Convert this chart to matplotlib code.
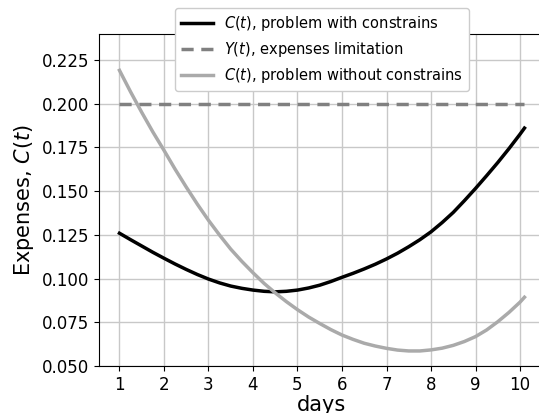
import matplotlib
matplotlib.use("Agg")
import matplotlib.pyplot as plt

days = [1.0, 1.25, 1.5, 1.75, 2.0, 2.25, 2.5, 2.75, 3.0, 3.25, 3.5, 3.75,
        4.0, 4.25, 4.5, 4.75, 5.0, 5.25, 5.5, 5.75, 6.0, 6.25, 6.5, 6.75,
        7.0, 7.25, 7.5, 7.75, 8.0, 8.25, 8.5, 8.75, 9.0, 9.25, 9.5, 9.75,
        10.0, 10.1]
cost_constrained = [0.1259, 0.1222, 0.1186, 0.1150, 0.1116, 0.1083, 0.1052, 0.1023,
                    0.0997, 0.0975, 0.0957, 0.0944, 0.0934, 0.0927, 0.0924, 0.0927,
                    0.0934, 0.0946, 0.0962, 0.0983, 0.1007, 0.1030, 0.1055, 0.1082,
                    0.1112, 0.1145, 0.1182, 0.1222, 0.1267, 0.1320, 0.1378, 0.1445,
                    0.1515, 0.1588, 0.1663, 0.1742, 0.1825, 0.1860]
limit = [0.1995] * len(days)
cost_free = [0.2190, 0.2067, 0.1950, 0.1838, 0.1733, 0.1625, 0.1523, 0.1425,
             0.1333, 0.1248, 0.1168, 0.1098, 0.1033, 0.0972, 0.0918, 0.0868,
             0.0822, 0.0780, 0.0743, 0.0708, 0.0677, 0.0652, 0.0630, 0.0614,
             0.0601, 0.0591, 0.0586, 0.0586, 0.0592, 0.0602, 0.0618, 0.0640,
             0.0668, 0.0706, 0.0753, 0.0806, 0.0865, 0.0893]
xticks = list(range(1, 11))

fig = plt.figure(figsize=(5.39, 4.13), dpi=100)
ax = fig.add_axes([0.1841, 0.1138, 0.8265, 0.8039])

ax.plot(days, cost_constrained, color="black", lw=2.5,
        label=r"$C(t)$, problem with constrains")
ax.plot(days, limit, color="#808080", lw=2.5, ls=(0, (3.5, 2.2)),
        label=r"$Y(t)$, expenses limitation")
ax.plot(days, cost_free, color="#aaaaaa", lw=2.5,
        label=r"$C(t)$, problem without constrains")

ax.set_xlim(0.545, 10.555)
ax.set_ylim(0.05, 0.2398)
ax.set_xticks(xticks)
ax.set_yticks([0.05, 0.075, 0.1, 0.125, 0.15, 0.175, 0.2, 0.225])
ax.set_yticklabels(["0.050", "0.075", "0.100", "0.125", "0.150", "0.175", "0.200", "0.225"])
ax.tick_params(labelsize=12)
ax.spines["right"].set_visible(False)
ax.grid(True, color="#c8c8c8", lw=1.0)
ax.set_axisbelow(True)
ax.set_xlabel("days", fontsize=15, labelpad=1)
ax.set_ylabel(r"Expenses, $C(t)$", fontsize=15)

ax.legend(loc="upper center", bbox_to_anchor=(0.5, 1.1), fontsize=10.5,
          framealpha=1.0, handlelength=2.2)

fig.savefig("out.png", dpi=100)
